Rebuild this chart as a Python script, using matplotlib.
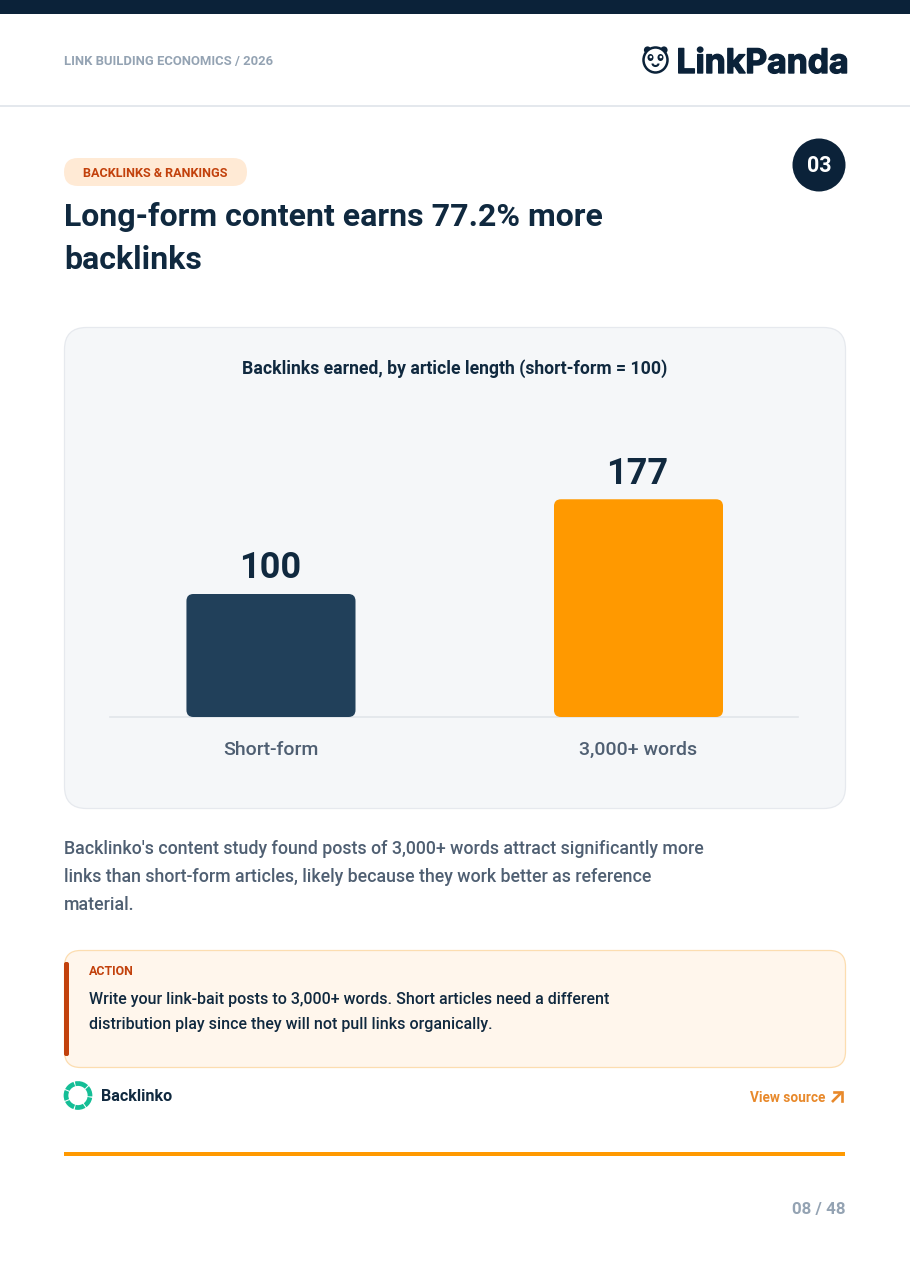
import matplotlib
matplotlib.use('Agg')
import matplotlib.pyplot as plt
import matplotlib.patheffects as pe
from matplotlib.patches import FancyBboxPatch, Rectangle, Circle, Ellipse, Arc

W, H = 910, 1287

categories = ['Short-form', '3,000+ words']
values = [100, 177]
value_labels = ['100', '177']
bar_colors = ['#21405A', '#FF9900']

NAVY = '#0B2239'
INK = '#10293F'
SLATE = '#4F5F72'
GREY = '#94A3B3'

plt.rcParams['font.family'] = ['Roboto', 'DejaVu Sans']

fig = plt.figure(figsize=(W / 100, H / 100), dpi=100, facecolor='white')

# pagina inteira em coordenadas de pixel
page = fig.add_axes([0, 0, 1, 1])
page.set_xlim(0, W)
page.set_ylim(H, 0)
page.axis('off')


def rbox(x0, y0, x1, y1, r, fc, ec='none', lw=0, z=1):
    p = FancyBboxPatch((x0 + r, y0 + r), x1 - x0 - 2 * r, y1 - y0 - 2 * r,
                       boxstyle='round,pad=%f,rounding_size=%f' % (r, r),
                       fc=fc, ec=ec, lw=lw, zorder=z)
    page.add_patch(p)
    return p


def txt(x, y, s, size, color, weight='normal', ha='left', family=None):
    kw = {'family': family} if family else {}
    return page.text(x, y, s, fontsize=size, color=color, fontweight=weight,
                     ha=ha, va='center_baseline', zorder=5, **kw)


# cabecalho
page.add_patch(Rectangle((0, 0), W, 14, fc=NAVY, ec='none'))
page.add_patch(Rectangle((0, 105), W, 1.6, fc='#E4E8ED', ec='none'))
txt(64, 60.5, 'LINK BUILDING ECONOMICS / 2026', 9.4, GREY, 'bold')

# logo
page.add_patch(Circle((647.5, 50), 3.6, fc=NAVY, ec='none', zorder=2))
page.add_patch(Circle((664, 50), 3.6, fc=NAVY, ec='none', zorder=2))
page.add_patch(Ellipse((655.5, 60), 24, 25, fc='white', ec=NAVY, lw=1.8, zorder=3))
page.add_patch(Ellipse((650.5, 57.5), 6, 7, fc=NAVY, ec='none', zorder=4))
page.add_patch(Ellipse((660.5, 57.5), 6, 7, fc=NAVY, ec='none', zorder=4))
page.add_patch(Circle((650.8, 57), 1.3, fc='white', ec='none', zorder=5))
page.add_patch(Circle((660.8, 57), 1.3, fc='white', ec='none', zorder=5))
page.add_patch(Arc((655.5, 63.5), 6, 5, theta1=0, theta2=180, ec=NAVY, lw=1.5, zorder=5))
logo = txt(676.5, 60.5, 'LinkPanda', 24.3, NAVY, 'bold', family='Inter')
logo.set_path_effects([pe.withStroke(linewidth=1.0, foreground=NAVY)])

# selo, pill e titulo
page.add_patch(Circle((819, 165), 26.5, fc=NAVY, ec='none'))
txt(819, 163.5, '03', 15.5, 'white', 'bold', ha='center')
rbox(64, 158, 247, 186, 14, '#FFEAD5')
txt(83, 172, 'BACKLINKS & RANKINGS', 9.05, '#C2410C', 'bold')
txt(64, 214.5, 'Long-form content earns 77.2% more', 23, INK, 'bold')
txt(64, 257, 'backlinks', 23, INK, 'bold')

# cartao do grafico
rbox(64.5, 327.5, 845.5, 808.5, 22, '#F5F7F9', '#E6E9EE', 0.9)
txt(454.5, 367, 'Backlinks earned, by article length (short-form = 100)', 12.7, INK, 'bold', ha='center')

# grafico
ax_x0, ax_x1, base_y, top_y = 110, 798, 717, 400
ax = fig.add_axes([ax_x0 / W, 1 - base_y / H, (ax_x1 - ax_x0) / W, (base_y - top_y) / H])
ax.patch.set_alpha(0)
ax.set_xlim(-0.438, 1.434)
ax.set_ylim(0, 257.7)
bars = ax.bar(range(len(values)), values, width=0.46, color=bar_colors, zorder=3)
ax.set_xticks(range(len(categories)))
ax.set_xticklabels(categories, fontsize=14, color=SLATE, fontweight='medium')
ax.tick_params(axis='x', length=0, pad=17)
ax.set_yticks([])
for s in ['top', 'left', 'right']:
    ax.spines[s].set_visible(False)
ax.spines['bottom'].set_color('#E1E5EA')
ax.spines['bottom'].set_linewidth(1.2)

for b, lab in zip(bars, value_labels):
    ax.annotate(lab, (b.get_x() + b.get_width() / 2, b.get_height()), xytext=(-0.7, 5.5),
                textcoords='offset points', ha='center', va='bottom',
                fontsize=26, fontweight='bold', color=INK, zorder=4)
    # cantos arredondados via clip
    (x0, y0), (x1, y1) = ax.transData.transform([(b.get_x(), 0), (b.get_x() + b.get_width(), b.get_height())])
    clip = FancyBboxPatch((x0 + 7, y0 + 7), x1 - x0 - 14, y1 - y0 - 14,
                          boxstyle='round,pad=7,rounding_size=7', transform=None)
    b.set_clip_path(clip)

# texto de apoio
txt(64, 847.5, "Backlinko's content study found posts of 3,000+ words attract significantly more", 12.78, SLATE, 'medium')
txt(64, 875, 'links than short-form articles, likely because they work better as reference', 12.78, SLATE, 'medium')
txt(64, 902.5, 'material.', 12.78, SLATE, 'medium')

# caixa de acao
rbox(64.5, 950.5, 845.5, 1067.5, 16, '#FFF6EC', '#FCDDB0', 0.9)
rbox(64, 962, 69, 1056, 2, '#C2410C', z=2)
txt(89, 970, 'ACTION', 8.9, '#C2410C', 'bold')
txt(89, 998, 'Write your link-bait posts to 3,000+ words. Short articles need a different', 11.55, INK, 'medium')
txt(89, 1023, 'distribution play since they will not pull links organically.', 11.55, INK, 'medium')

# fonte
page.add_patch(Circle((78, 1095.5), 12, fc='none', ec='#14BE96', lw=3.4,
                      linestyle=(0, (1.98, 0.22))))
txt(101, 1095, 'Backlinko', 11.6, INK, 'bold')
txt(825, 1096, 'View source', 9.8, '#E8892B', 'bold', ha='right')
page.plot([832, 842], [1102, 1092], color='#E8892B', lw=1.9, solid_capstyle='butt')
page.plot([833.5, 842, 842], [1092, 1092, 1100.5], color='#E8892B', lw=1.9, solid_joinstyle='miter')

# rodape
page.add_patch(Rectangle((64, 1152), 781, 4, fc='#FF9900', ec='none'))
txt(845.5, 1208, '08 / 48', 12.2, GREY, 'bold', ha='right')

fig.savefig('out.png', dpi=100, facecolor='white')
